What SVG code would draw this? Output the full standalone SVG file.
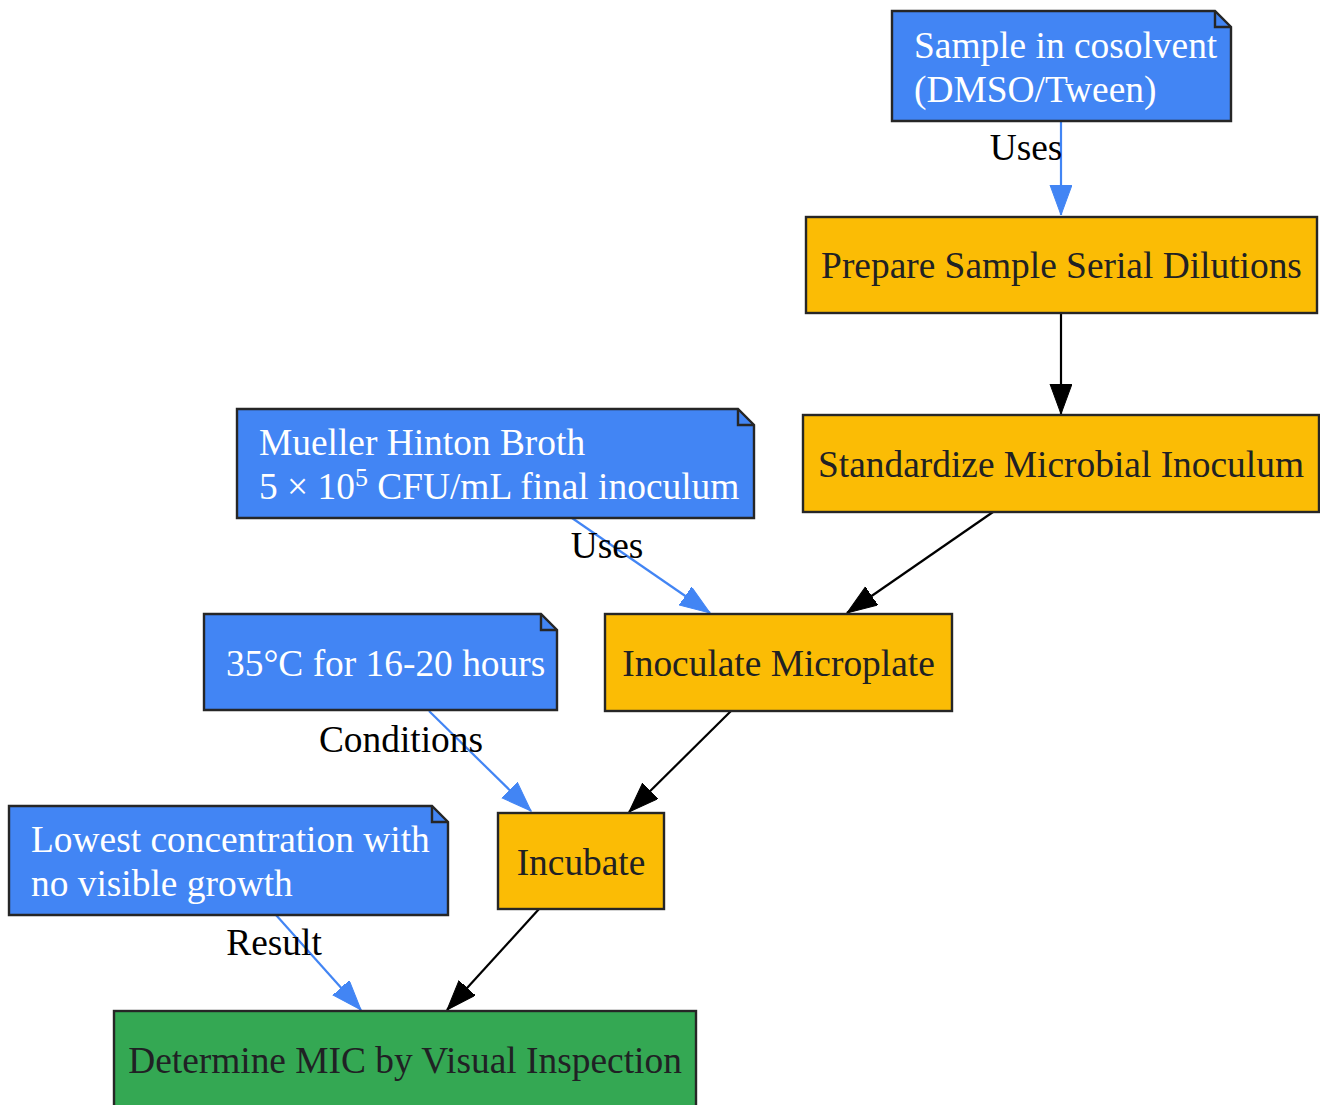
<svg xmlns="http://www.w3.org/2000/svg" width="1320" height="1105" viewBox="0 0 1320 1105">
<style>
text{font-family:"Liberation Serif","Times New Roman",serif;font-size:37.4px}
.step{fill:#FBBC05;stroke:#262626;stroke-width:2.4}
.final{fill:#34A853;stroke:#262626;stroke-width:2.4}
.note{fill:#4285F4;stroke:#262626;stroke-width:2.4}
.fold{fill:none;stroke:#262626;stroke-width:2.4}
.dark{fill:#202124;text-anchor:middle}
.light{fill:#ffffff}
.lbl{fill:#000000;text-anchor:middle}
.eb{stroke:#000000;stroke-width:2.2;fill:none}
.eu{stroke:#4285F4;stroke-width:2.2;fill:none}
</style>
<defs>
<marker id="ab" markerUnits="userSpaceOnUse" markerWidth="32" markerHeight="24" refX="30" refY="11" orient="auto" viewBox="0 0 32 24"><path d="M0,0 L30,11 L0,22 z" fill="#000000" stroke="#000000" stroke-width="1"/></marker>
<marker id="au" markerUnits="userSpaceOnUse" markerWidth="32" markerHeight="24" refX="30" refY="11" orient="auto" viewBox="0 0 32 24"><path d="M0,0 L30,11 L0,22 z" fill="#4285F4" stroke="#4285F4" stroke-width="1"/></marker>
</defs>
<rect width="1320" height="1105" fill="#ffffff"/>
<g id="edges">
<line class="eu" x1="1061" y1="121" x2="1061" y2="215" marker-end="url(#au)"/>
<text class="lbl" x="1026" y="160">Uses</text>
<line class="eb" x1="1061" y1="313" x2="1061" y2="414" marker-end="url(#ab)"/>
<line class="eb" x1="993" y1="512" x2="847" y2="613" marker-end="url(#ab)"/>
<line class="eu" x1="572" y1="518" x2="710" y2="613" marker-end="url(#au)"/>
<text class="lbl" x="607" y="558">Uses</text>
<line class="eb" x1="731" y1="711" x2="629" y2="812" marker-end="url(#ab)"/>
<line class="eu" x1="429" y1="711" x2="531" y2="811" marker-end="url(#au)"/>
<text class="lbl" x="401" y="752">Conditions</text>
<line class="eb" x1="539" y1="909" x2="447" y2="1010" marker-end="url(#ab)"/>
<line class="eu" x1="276" y1="915" x2="361" y2="1010" marker-end="url(#au)"/>
<text class="lbl" x="274" y="955">Result</text>
</g>
<g id="note_cosolvent">
<path class="note" d="M892,11 L1215,11 L1231,27 L1231,121 L892,121 Z"/>
<path class="fold" d="M1215,11 L1215,27 L1231,27"/>
<text class="light" x="914" y="58">Sample in cosolvent</text>
<text class="light" x="914" y="102">(DMSO/Tween)</text>
</g>
<g id="prepare">
<rect class="step" x="806" y="217" width="511" height="96"/>
<text class="dark" x="1061.5" y="278">Prepare Sample Serial Dilutions</text>
</g>
<g id="standardize">
<rect class="step" x="803" y="415" width="516" height="97"/>
<text class="dark" x="1061" y="477">Standardize Microbial Inoculum</text>
</g>
<g id="note_broth">
<path class="note" d="M237,409 L738,409 L754,425 L754,518 L237,518 Z"/>
<path class="fold" d="M738,409 L738,425 L754,425"/>
<text class="light" x="259" y="455">Mueller Hinton Broth</text>
<text class="light" x="259" y="499">5 × 10<tspan font-size="26" dy="-13">5</tspan><tspan dy="13"> CFU/mL final inoculum</tspan></text>
</g>
<g id="inoculate">
<rect class="step" x="605" y="614" width="347" height="97"/>
<text class="dark" x="778.5" y="676">Inoculate Microplate</text>
</g>
<g id="note_conditions">
<path class="note" d="M204,614 L541,614 L557,630 L557,710 L204,710 Z"/>
<path class="fold" d="M541,614 L541,630 L557,630"/>
<text class="light" x="226" y="676">35°C for 16-20 hours</text>
</g>
<g id="incubate">
<rect class="step" x="498" y="813" width="166" height="96"/>
<text class="dark" x="581" y="875">Incubate</text>
</g>
<g id="note_result">
<path class="note" d="M9,806 L432,806 L448,822 L448,915 L9,915 Z"/>
<path class="fold" d="M432,806 L432,822 L448,822"/>
<text class="light" x="31" y="852">Lowest concentration with</text>
<text class="light" x="31" y="896">no visible growth</text>
</g>
<g id="determine">
<rect class="final" x="114" y="1011" width="582" height="100"/>
<text class="dark" x="405" y="1073">Determine MIC by Visual Inspection</text>
</g>
</svg>
